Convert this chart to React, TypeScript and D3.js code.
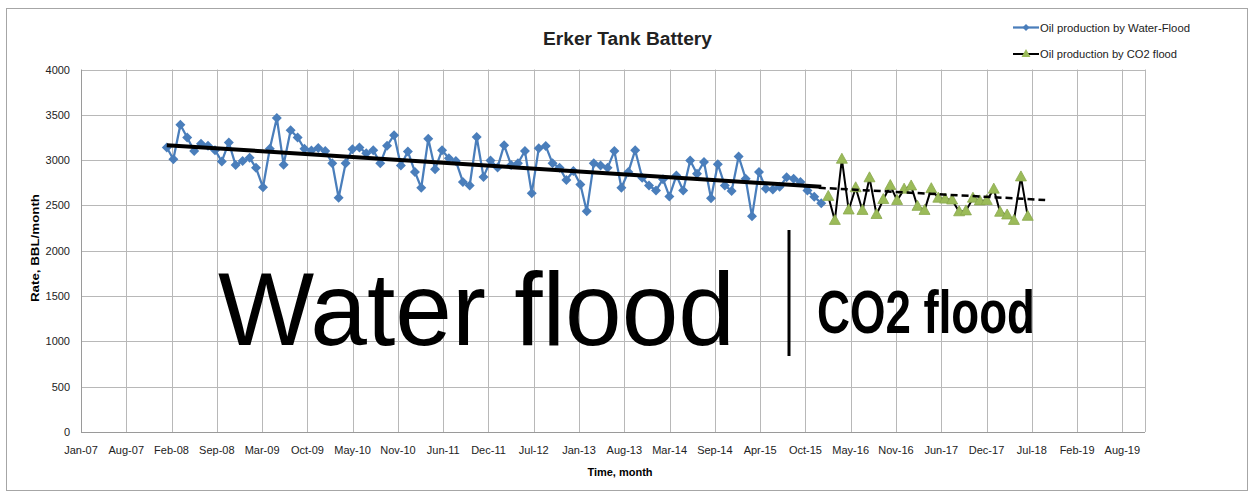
import React, { useEffect, useRef } from "react";
import * as d3 from "d3";

const W = 1249;
const H = 494;

const chartTitle = "Erker Tank Battery";
const xTitle = "Time, month";
const yTitle = "Rate, BBL/month";
const waterName = "Oil production by Water-Flood";
const co2Name = "Oil production by CO2 flood";

// axis: Excel date axis, major unit 200 days
const axisStart = new Date(2007, 0, 17);
const tickStepDays = 200;
const tickCount = 24;
const yTicks = [0, 500, 1000, 1500, 2000, 2500, 3000, 3500, 4000];

// monthly production, Jan 2008 .. Dec 2015
const waterFirstMonth = new Date(2008, 0, 1);
const waterValues = [
  3140, 3010, 3390, 3250, 3100, 3180, 3160, 3110, 2985, 3195, 2945, 2990,
  3025, 2915, 2700, 3125, 3465, 2950, 3330, 3250, 3125, 3105, 3135, 3100,
  2965, 2585, 2965, 3120, 3140, 3075, 3110, 2965, 3160, 3275, 2940, 3095,
  2870, 2695, 3235, 2900, 3110, 3020, 2990, 2760, 2720, 3255, 2815, 2995,
  2920, 3165, 2945, 2965, 3100, 2635, 3130, 3155, 2965, 2915, 2780, 2880,
  2730, 2435, 2965, 2940, 2915, 3100, 2695, 2870, 3110, 2805, 2720, 2665,
  2790, 2600, 2830, 2665, 2995, 2850, 2980, 2580, 2955, 2720, 2660, 3040,
  2795, 2380, 2870, 2685, 2675, 2705, 2810, 2795, 2760, 2665, 2595, 2525,
];

// monthly production, Jan 2016 .. Jun 2018
const co2FirstMonth = new Date(2016, 0, 1);
const co2Values = [
  2600, 2335, 3010, 2450, 2695, 2445, 2805, 2400, 2565, 2720, 2555, 2680,
  2715, 2490, 2445, 2685, 2580, 2570, 2560, 2430, 2440, 2580, 2550, 2555,
  2680, 2425, 2395, 2335, 2815, 2380,
];

// linear trend end points
const waterTrend: [string, number][] = [["2008-01-31", 3165], ["2015-12-31", 2705]];
const co2Trend: [string, number][] = [["2015-12-20", 2695], ["2018-09-15", 2560]];

const monthEnd = (first: Date, i: number) =>
  d3.timeDay.offset(d3.timeMonth.offset(first, i + 1), -1);

const FONT = "'Liberation Sans', Arial, sans-serif";

export default function App() {
  const ref = useRef<SVGSVGElement>(null);

  useEffect(() => {
    const svg = d3.select(ref.current);
    svg.selectAll("*").remove();

    const left = 81, right = 1145, top = 69.5, bottom = 432;

    const x = d3
      .scaleTime()
      .domain([axisStart, d3.timeDay.offset(axisStart, tickStepDays * (tickCount - 0.5))])
      .range([left, right]);
    const y = d3.scaleLinear().domain([0, 4000]).range([bottom, top]);

    const xTicks = d3.range(tickCount).map((i) => d3.timeDay.offset(axisStart, tickStepDays * i));
    const fmt = d3.timeFormat("%b-%y");

    // outer border
    svg
      .append("rect")
      .attr("x", 6.5)
      .attr("y", 8.5)
      .attr("width", W - 8)
      .attr("height", H - 12)
      .attr("fill", "#fff")
      .attr("stroke", "#a6a6a6");

    // grid
    const grid = svg.append("g");
    grid
      .selectAll(".hg")
      .data(yTicks)
      .join("line")
      .attr("x1", left)
      .attr("x2", right)
      .attr("y1", (d) => Math.round(y(d)) + 0.5)
      .attr("y2", (d) => Math.round(y(d)) + 0.5)
      .attr("stroke", (d) => (d === 0 ? "#9a9a9a" : "#b8b8b8"))
      .attr("stroke-width", 1);
    grid
      .selectAll(".vg")
      .data(xTicks.concat([x.domain()[1]]))
      .join("line")
      .attr("x1", (d) => Math.round(x(d)) + 0.5)
      .attr("x2", (d) => Math.round(x(d)) + 0.5)
      .attr("y1", top)
      .attr("y2", bottom)
      .attr("stroke", (d, i) => (i === 0 ? "#9a9a9a" : "#b8b8b8"))
      .attr("stroke-width", 1);

    // tick labels
    svg
      .append("g")
      .selectAll("text")
      .data(yTicks)
      .join("text")
      .attr("x", 70)
      .attr("y", (d) => y(d) + 4)
      .attr("text-anchor", "end")
      .style("font-family", FONT)
      .style("font-size", "11px")
      .attr("fill", "#222")
      .text((d) => d);

    svg
      .append("g")
      .selectAll("text")
      .data(xTicks)
      .join("text")
      .attr("x", (d) => x(d))
      .attr("y", 454)
      .attr("text-anchor", "middle")
      .style("font-family", FONT)
      .style("font-size", "11px")
      .attr("fill", "#222")
      .text((d) => fmt(d));

    // axis titles
    svg
      .append("text")
      .attr("x", 620)
      .attr("y", 476)
      .attr("text-anchor", "middle")
      .style("font-family", FONT)
      .style("font-size", "11px")
      .style("font-weight", "bold")
      .text(xTitle);

    svg
      .append("text")
      .attr("transform", "translate(39, 248) rotate(-90)")
      .attr("text-anchor", "middle")
      .attr("textLength", 108)
      .attr("lengthAdjust", "spacingAndGlyphs")
      .style("font-family", FONT)
      .style("font-size", "11px")
      .style("font-weight", "bold")
      .text(yTitle);

    // title
    svg
      .append("text")
      .attr("x", 543)
      .attr("y", 45)
      .attr("textLength", 169)
      .attr("lengthAdjust", "spacingAndGlyphs")
      .style("font-family", FONT)
      .style("font-size", "18px")
      .style("font-weight", "bold")
      .attr("fill", "#222")
      .text(chartTitle);

    const water = waterValues.map((v, i) => ({ date: monthEnd(waterFirstMonth, i), value: v }));
    const co2 = co2Values.map((v, i) => ({ date: monthEnd(co2FirstMonth, i), value: v }));

    const line = d3
      .line<{ date: Date; value: number }>()
      .x((d) => x(d.date))
      .y((d) => y(d.value));

    const diamond = "M0,-5L5,0L0,5L-5,0Z";
    const triangle = "M0,-6L5.5,4L-5.5,4Z";

    // water flood series
    svg
      .append("path")
      .datum(water)
      .attr("d", line)
      .attr("fill", "none")
      .attr("stroke", "#4a7ebb")
      .attr("stroke-width", 2.25)
      .attr("stroke-linejoin", "round");
    svg
      .append("g")
      .selectAll("path")
      .data(water)
      .join("path")
      .attr("d", diamond)
      .attr("transform", (d) => `translate(${x(d.date)},${y(d.value)})`)
      .attr("fill", "#4a7ebb");

    // co2 series
    svg
      .append("path")
      .datum(co2)
      .attr("d", line)
      .attr("fill", "none")
      .attr("stroke", "#000")
      .attr("stroke-width", 2)
      .attr("stroke-linejoin", "round");
    svg
      .append("g")
      .selectAll("path")
      .data(co2)
      .join("path")
      .attr("d", triangle)
      .attr("transform", (d) => `translate(${x(d.date)},${y(d.value)})`)
      .attr("fill", "#9bbb59")
      .attr("stroke", "#8aa84e")
      .attr("stroke-width", 0.8);

    // trend lines
    const trendLine = d3
      .line<[string, number]>()
      .x((d) => x(d3.timeParse("%Y-%m-%d")(d[0]) as Date))
      .y((d) => y(d[1]));
    svg
      .append("path")
      .datum(waterTrend)
      .attr("d", trendLine)
      .attr("stroke", "#000")
      .attr("stroke-width", 4);
    svg
      .append("path")
      .datum(co2Trend)
      .attr("d", trendLine)
      .attr("stroke", "#000")
      .attr("stroke-width", 2.5)
      .attr("stroke-dasharray", "7,4");

    // annotations
    svg
      .append("text")
      .attr("x", 218)
      .attr("y", 345)
      .attr("textLength", 517)
      .attr("lengthAdjust", "spacingAndGlyphs")
      .style("font-family", FONT)
      .style("font-size", "104px")
      .text("Water flood");
    svg
      .append("line")
      .attr("x1", 789)
      .attr("x2", 789)
      .attr("y1", 230)
      .attr("y2", 356)
      .attr("stroke", "#000")
      .attr("stroke-width", 3);
    svg
      .append("text")
      .attr("x", 817)
      .attr("y", 333)
      .attr("textLength", 218)
      .attr("lengthAdjust", "spacingAndGlyphs")
      .style("font-family", FONT)
      .style("font-size", "62px")
      .style("font-weight", "bold")
      .text("CO2 flood");

    // legend
    const lg = svg.append("g");
    lg.append("line")
      .attr("x1", 1013)
      .attr("x2", 1039)
      .attr("y1", 27.5)
      .attr("y2", 27.5)
      .attr("stroke", "#4a7ebb")
      .attr("stroke-width", 2.25);
    lg.append("path").attr("d", "M0,-3.5L3.5,0L0,3.5L-3.5,0Z").attr("transform", "translate(1026,27.5)").attr("fill", "#4a7ebb");
    lg.append("text")
      .attr("x", 1040)
      .attr("y", 31.5)
      .attr("textLength", 150)
      .attr("lengthAdjust", "spacingAndGlyphs")
      .style("font-family", FONT)
      .style("font-size", "11.5px")
      .attr("fill", "#222")
      .text(waterName);
    lg.append("line")
      .attr("x1", 1013)
      .attr("x2", 1039)
      .attr("y1", 54)
      .attr("y2", 54)
      .attr("stroke", "#000")
      .attr("stroke-width", 2);
    lg.append("path").attr("d", "M0,-5L4.5,3L-4.5,3Z").attr("transform", "translate(1026,54)").attr("fill", "#9bbb59");
    lg.append("text")
      .attr("x", 1040)
      .attr("y", 58)
      .attr("textLength", 137)
      .attr("lengthAdjust", "spacingAndGlyphs")
      .style("font-family", FONT)
      .style("font-size", "11.5px")
      .attr("fill", "#222")
      .text(co2Name);
  }, []);

  return (
    <svg
      ref={ref}
      width={W}
      height={H}
      style={{ position: "absolute", left: 0, top: 0, background: "#fff" }}
    />
  );
}
